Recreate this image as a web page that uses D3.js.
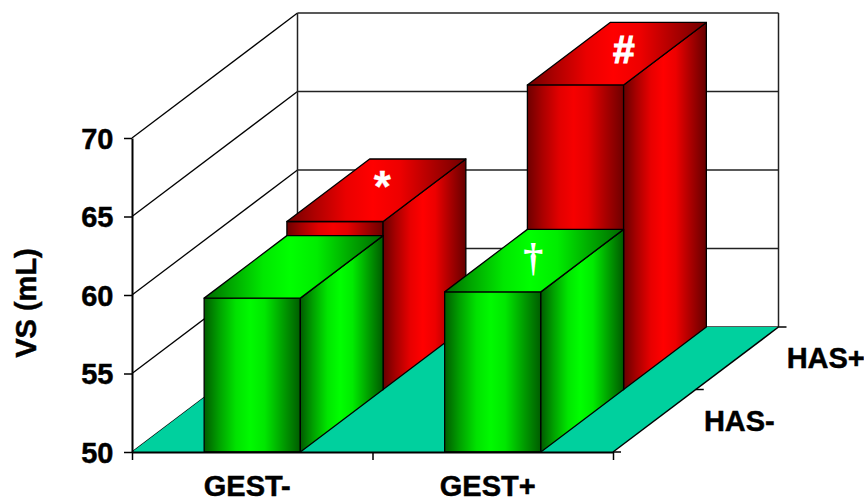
<!DOCTYPE html>
<html>
<head>
<meta charset="utf-8">
<script src="https://cdn.jsdelivr.net/npm/d3@7"></script>
<style>
html, body { margin: 0; padding: 0; background: #fff; }
svg { display: block; }
text { font-family: "Liberation Sans", Arial, sans-serif; font-weight: bold; fill: #000; stroke: #000; stroke-width: 0.45px; }
</style>
</head>
<body>
<div id="chart"></div>
<script>
"use strict";

var gestCategories = ["GEST-", "GEST+"];
var hasCategories = ["HAS-", "HAS+"];
var hasMinus = [59.8, 60.2];
var hasPlus = [60.7, 69.4];
var hasMinusMarks = ["", "†"];
var hasPlusMarks = ["*", "#"];
var yTicks = [50, 55, 60, 65, 70];

var w = 864, h = 497;
var floorLeft = 132, floorRight = 613, floorFront = 452, wallTop = 138;
// how far the back of the box is shifted from the front
var depthX = 165.5, depthY = -125;
var labelSize = "29px";

// significance symbols sit on the bar tops, each glyph needs its own nudge
var markStyle = {
    "*": { size: 44, dx: 6, dy: 12, family: null, stroke: 0.3 },
    "#": { size: 39, dx: 7, dy: 9, family: null, stroke: 1.1 },
    "†": { size: 40, dx: -1, dy: 10, family: '"Liberation Serif", serif', stroke: 0 }
};

var svg = d3.select("#chart").append("svg")
    .attr("width", w)
    .attr("height", h);

var x = d3.scaleBand()
    .domain(gestCategories)
    .range([floorLeft, floorRight])
    .paddingInner(0.6)
    .paddingOuter(0.3);
var xEdge = d3.scaleLinear().domain([0, 2]).range([floorLeft, floorRight]);
var y = d3.scaleLinear().domain([50, 70]).range([floorFront, wallTop]);
var z = d3.scaleBand().domain(hasCategories).range([0, 1]);

// oblique projection, px and py are on the front plane and d runs 0..1 to the back
function project(px, py, d) {
    return [px + d * depthX, py + d * depthY];
}

function polygon(points) {
    return points.map(function(p) { return p[0] + "," + p[1]; }).join(" ");
}

// dark edges, wide bright middle, so the faces look rounded
function addGradient(name, dark, bright) {
    var mix = d3.interpolateRgb(dark, bright);
    var grad = svg.append("defs").append("linearGradient")
        .attr("id", name)
        .attr("x1", 0).attr("x2", 1).attr("y1", 0).attr("y2", 0);
    [[0, 0], [0.15, 0.42], [0.33, 0.85], [0.48, 1], [0.63, 0.88], [0.82, 0.42], [1, 0]].forEach(function(s) {
        grad.append("stop").attr("offset", s[0]).attr("stop-color", mix(s[1]));
    });
}

addGradient("redFront", "#6e0000", "#f60000");
addGradient("redSide", "#660000", "#ff0000");
addGradient("redTop", "#700000", "#ff0000");
addGradient("greenFront", "#005c00", "#00fa00");
addGradient("greenSide", "#005a00", "#00ff00");
addGradient("greenTop", "#006800", "#00ff00");

// back wall grid
yTicks.forEach(function(t) {
    var a = project(floorLeft, y(t), 0);
    var b = project(floorLeft, y(t), 1);
    var c = project(floorRight, y(t), 1);
    svg.append("line")
        .attr("x1", a[0]).attr("y1", a[1]).attr("x2", b[0]).attr("y2", b[1])
        .attr("stroke", "#000").attr("stroke-width", 1.3);
    svg.append("line")
        .attr("x1", b[0]).attr("y1", b[1]).attr("x2", c[0]).attr("y2", c[1])
        .attr("stroke", "#222").attr("stroke-width", 1.5);
});

var backBottom = project(floorLeft, y(50), 1), backTop = project(floorLeft, y(70), 1);
[floorLeft, floorRight].forEach(function(px) {
    var bx = project(px, 0, 1)[0];
    svg.append("line")
        .attr("x1", bx).attr("y1", backTop[1]).attr("x2", bx).attr("y2", backBottom[1])
        .attr("stroke", "#222").attr("stroke-width", 1.5);
});

// floor
svg.append("polygon")
    .attr("points", polygon([
        project(floorLeft, y(50), 0), project(floorRight, y(50), 0),
        project(floorRight, y(50), 1), project(floorLeft, y(50), 1)
    ]))
    .attr("fill", "#00d09e");

// one bar is three faces: front, side, top
function drawBar(gest, value, has, color, mark) {
    var x0 = x(gest), x1 = x0 + x.bandwidth();
    var d0 = z(has), d1 = d0 + z.bandwidth();
    var fb = project(x0, y(50), d0)[1];
    var top = project(x0, y(value), d0)[1];
    var left = project(x0, 0, d0)[0], right = project(x1, 0, d0)[0];
    var shiftX = (d1 - d0) * depthX, shiftY = (d1 - d0) * depthY;
    var g = svg.append("g")
        .attr("stroke", "#000")
        .attr("stroke-width", 1.3)
        .attr("stroke-linejoin", "round");

    g.append("polygon")
        .attr("points", polygon([[left, top], [right, top], [right, fb], [left, fb]]))
        .attr("fill", "url(#" + color + "Front)");
    g.append("polygon")
        .attr("points", polygon([[right, top], [right + shiftX, top + shiftY], [right + shiftX, fb + shiftY], [right, fb]]))
        .attr("fill", "url(#" + color + "Side)");
    g.append("polygon")
        .attr("points", polygon([[left, top], [left + shiftX, top + shiftY], [right + shiftX, top + shiftY], [right, top]]))
        .attr("fill", "url(#" + color + "Top)");

    if (mark) {
        var st = markStyle[mark];
        svg.append("text")
            .attr("x", (left + right + shiftX) / 2 + st.dx)
            .attr("y", top + shiftY / 2 + st.dy)
            .attr("text-anchor", "middle")
            .style("font-size", st.size + "px")
            .style("font-family", st.family)
            .style("fill", "#fff")
            .style("stroke", "#fff")
            .style("stroke-width", st.stroke + "px")
            .text(mark);
    }
}

gestCategories.forEach(function(g, i) {
    drawBar(g, hasPlus[i], "HAS+", "red", hasPlusMarks[i]);
});
gestCategories.forEach(function(g, i) {
    drawBar(g, hasMinus[i], "HAS-", "green", hasMinusMarks[i]);
});

// axes
var yAxis = svg.append("g")
    .attr("transform", "translate(" + floorLeft + ",0)")
    .call(d3.axisLeft(y).tickValues(yTicks).tickSize(8).tickPadding(10.5).tickSizeOuter(0));
yAxis.select(".domain").attr("stroke", "#000").attr("stroke-width", 2);
yAxis.selectAll(".tick line").attr("stroke", "#000").attr("stroke-width", 1.5);
yAxis.selectAll(".tick text")
    .style("font-size", labelSize)
    .style("font-family", '"Liberation Sans", Arial, sans-serif')
    .style("font-weight", "bold")
    .attr("dy", "0.36em");

var xAxis = svg.append("g")
    .attr("transform", "translate(0," + floorFront + ")")
    .call(d3.axisBottom(xEdge).tickValues([0, 1, 2]).tickSize(8).tickFormat("").tickSizeOuter(0));
xAxis.select(".domain").attr("stroke", "#000").attr("stroke-width", 2);
xAxis.selectAll(".tick line").attr("stroke", "#000").attr("stroke-width", 1.5);

gestCategories.forEach(function(g) {
    svg.append("text")
        .attr("x", x(g) + x.bandwidth() / 2 - 5)
        .attr("y", 496)
        .attr("text-anchor", "middle")
        .style("font-size", labelSize)
        .text(g);
});

// depth axis along the right edge of the floor
[0, 0.5, 1].forEach(function(d) {
    var p = project(floorRight, y(50), d);
    svg.append("line")
        .attr("x1", p[0]).attr("y1", p[1]).attr("x2", p[0] + 8).attr("y2", p[1])
        .attr("stroke", "#000").attr("stroke-width", 1.5);
});
var rightFront = project(floorRight, y(50), 0), rightBack = project(floorRight, y(50), 1);
svg.append("line")
    .attr("x1", rightFront[0]).attr("y1", rightFront[1]).attr("x2", rightBack[0]).attr("y2", rightBack[1])
    .attr("stroke", "#000").attr("stroke-width", 1.5);

hasCategories.forEach(function(c) {
    var p = project(floorRight, y(50), z(c) + z.bandwidth() / 2);
    svg.append("text")
        .attr("x", p[0] + 49.5)
        .attr("y", p[1] + 10)
        .style("font-size", labelSize)
        .text(c);
});

svg.append("text")
    .attr("transform", "translate(36,303) rotate(-90)")
    .attr("text-anchor", "middle")
    .style("font-size", labelSize)
    .text("VS (mL)");
</script>
</body>
</html>
